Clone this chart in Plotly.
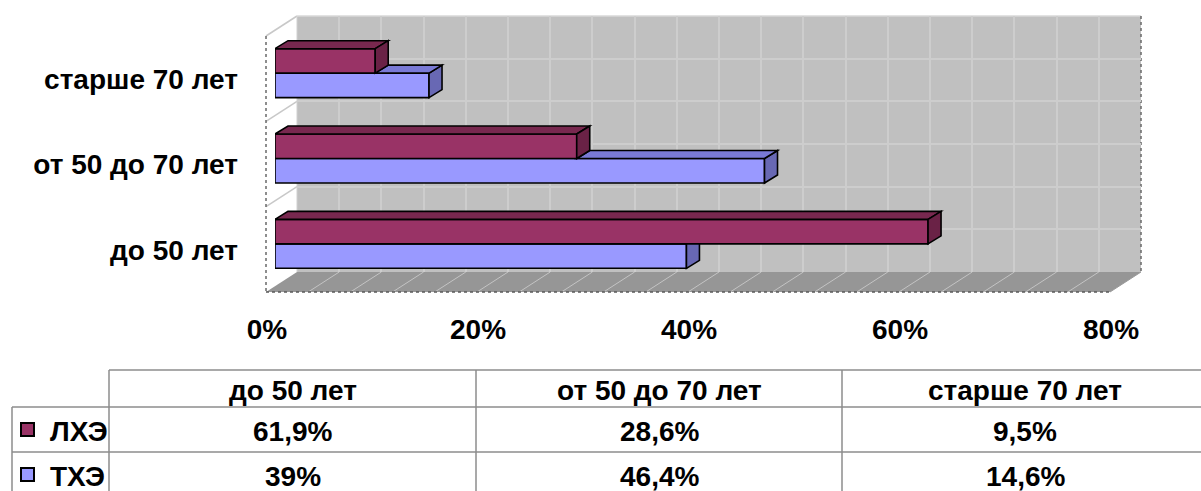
import plotly.graph_objects as go

# ---- data ----
categories = ["до 50 лет", "от 50 до 70 лет", "старше 70 лет"]
series_names = ["ЛХЭ", "ТХЭ"]
lhe_values = [61.9, 28.6, 9.5]
the_values = [39.0, 46.4, 14.6]
x_ticks = [0, 20, 40, 60, 80]
x_tick_labels = ["0%", "20%", "40%", "60%", "80%"]

# ---- styling ----
W, H = 1201, 491
FONT = "Liberation Sans"
FS = 28
LHE_COLORS = dict(front="#993366", top="#78284f", side="#6a2246")
THE_COLORS = dict(front="#9999FF", top="#7a7ad6", side="#6868b4")

X_MAX = 80
MINOR_STEP = 4

# 3-D box geometry, in pixels
FLOOR_X0, FLOOR_X1, FLOOR_Y = 266, 1110, 292      # front edge of the floor
DEPTH_X, DEPTH_Y = 31, 20                          # full depth of the box
WALL_TOP = 16                                      # top edge of the back wall
BAR_SHIFT_X, BAR_SHIFT_Y = 9, 5.5                 # bars sit this far behind the front
BAR_DEPTH_X, BAR_DEPTH_Y = 13, 8                   # thickness of each bar
BARGAP = 0.426


def px(x):
    return x / W


def py(y):
    return 1 - y / H


wall_x0, wall_x1 = FLOOR_X0 + DEPTH_X, FLOOR_X1 + DEPTH_X
wall_y0, wall_y1 = WALL_TOP, FLOOR_Y - DEPTH_Y
bar_x0, bar_x1 = FLOOR_X0 + BAR_SHIFT_X, FLOOR_X1 + BAR_SHIFT_X
bar_y0 = WALL_TOP + DEPTH_Y - BAR_SHIFT_Y
bar_y1 = FLOOR_Y - BAR_SHIFT_Y

n_cat = len(categories)
x_unit = (bar_x1 - bar_x0) / X_MAX
y_unit = (bar_y1 - bar_y0) / n_cat
ddx = BAR_DEPTH_X / x_unit
ddy = BAR_DEPTH_Y / y_unit
half = (1 - BARGAP) / 2

fig = go.Figure()

# empty trace that carries the back-wall grid subplot
fig.add_trace(go.Scatter(x=[None], y=[None], xaxis="x", yaxis="y",
                         showlegend=False, hoverinfo="skip"))

fig.add_trace(go.Bar(y=categories, x=the_values, orientation="h", name=series_names[1],
                     marker=dict(color=THE_COLORS["front"], line=dict(color="black", width=1.6)),
                     xaxis="x2", yaxis="y2", showlegend=False))
fig.add_trace(go.Bar(y=categories, x=lhe_values, orientation="h", name=series_names[0],
                     marker=dict(color=LHE_COLORS["front"], line=dict(color="black", width=1.6)),
                     xaxis="x2", yaxis="y2", showlegend=False))

shapes = []


def poly(points, fill, xref="paper", yref="paper", layer="below", line=None, conv=True):
    if conv:
        pts = [(px(a), py(b)) for a, b in points]
    else:
        pts = points
    path = "M " + " L ".join(f"{a},{b}" for a, b in pts) + " Z"
    shapes.append(dict(type="path", path=path, xref=xref, yref=yref, layer=layer,
                       fillcolor=fill, line=line or dict(width=0)))


def seg(x0, y0, x1, y1, color, width=1, dash="solid", layer="below"):
    shapes.append(dict(type="line", xref="paper", yref="paper", layer=layer,
                       x0=px(x0), y0=py(y0), x1=px(x1), y1=py(y1),
                       line=dict(color=color, width=width, dash=dash)))


# back wall
poly([(wall_x0, wall_y0), (wall_x1, wall_y0), (wall_x1, wall_y1), (wall_x0, wall_y1)], "#c0c0c0")
# left wall
poly([(FLOOR_X0, FLOOR_Y), (FLOOR_X0, wall_y0 + DEPTH_Y), (wall_x0, wall_y0), (wall_x0, wall_y1)], "white")
seg(FLOOR_X0, wall_y0 + DEPTH_Y, wall_x0, wall_y0, "#c8c8c8", 1.5)
for j in range(1, n_cat):
    yb = wall_y1 - j * (wall_y1 - wall_y0) / n_cat
    seg(FLOOR_X0, yb + DEPTH_Y, wall_x0, yb, "#c8c8c8", 1.5)
seg(wall_x0, wall_y0, wall_x0, wall_y1, "#d0d0d0", 1)
# floor
poly([(FLOOR_X0, FLOOR_Y), (FLOOR_X1, FLOOR_Y), (wall_x1, wall_y1), (wall_x0, wall_y1)], "#969696")
floor_unit = (FLOOR_X1 - FLOOR_X0) / X_MAX
for v in range(0, X_MAX + 1, MINOR_STEP):
    if 0 < v < X_MAX:
        seg(FLOOR_X0 + v * floor_unit, FLOOR_Y, wall_x0 + v * floor_unit, wall_y1, "#c4c4c4", 1)
# box edges
seg(wall_x0, wall_y0, wall_x1, wall_y0, "#d8d8d8", 1.5)
seg(wall_x1, wall_y0, wall_x1, wall_y1, "#6a6a6a", 1.5, "dot")
seg(FLOOR_X0, wall_y0 + DEPTH_Y, FLOOR_X0, FLOOR_Y, "#6a6a6a", 1.5, "dot")
seg(FLOOR_X0, FLOOR_Y, FLOOR_X1, FLOOR_Y, "#5a5a5a", 1.5, "dot")
seg(FLOOR_X1, FLOOR_Y, wall_x1, wall_y1, "#9a9a9a", 1)

# 3-D faces of the bars, in data units of the bar axes
edge = dict(color="black", width=1.6)


def face(points, fill):
    poly(points, fill, xref="x2", yref="y2", layer="above", line=edge, conv=False)


for i in range(n_cat):
    vl, vt = lhe_values[i], the_values[i]
    # lower bar (ТХЭ): faces partly hidden behind the upper bar
    if vt > vl:
        face([(vt, i - half), (vt, i), (vt + ddx, i + ddy), (vt + ddx, i - half + ddy)], THE_COLORS["side"])
        face([(vl, i), (vt, i), (vt + ddx, i + ddy), (vl + ddx, i + ddy)], THE_COLORS["top"])
    else:
        face([(vt, i - half), (vt, i), (vt + ddx, i), (vt + ddx, i - half + ddy)], THE_COLORS["side"])
    # upper bar (ЛХЭ)
    face([(0, i + half), (vl, i + half), (vl + ddx, i + half + ddy), (ddx, i + half + ddy)], LHE_COLORS["top"])
    face([(vl, i), (vl, i + half), (vl + ddx, i + half + ddy), (vl + ddx, i + ddy)], LHE_COLORS["side"])

# ---- data table under the chart ----
TBL_LEFT, TBL_X = 12, [109, 476, 842, 1208]
TBL_Y = [370, 407, 452, 497]
GRID = "#8c8c8c"
seg(TBL_X[0], TBL_Y[0], TBL_X[-1], TBL_Y[0], GRID, 1.5, layer="above")
for yy in TBL_Y[1:]:
    seg(TBL_LEFT, yy, TBL_X[-1], yy, GRID, 1.5, layer="above")
seg(TBL_LEFT, TBL_Y[1], TBL_LEFT, TBL_Y[-1], GRID, 1.5, layer="above")
for xx in TBL_X:
    seg(xx, TBL_Y[0], xx, TBL_Y[-1], GRID, 1.5, layer="above")

annotations = []


def text(x, y, s, anchor="center"):
    annotations.append(dict(x=px(x), y=py(y), xref="paper", yref="paper", text=s,
                            showarrow=False, xanchor=anchor, yanchor="middle",
                            font=dict(family=FONT, size=FS, color="black", weight="bold")))


def pct(v):
    return f"{v:g}".replace(".", ",") + "%"


col_centers = [(TBL_X[k] + TBL_X[k + 1]) / 2 for k in range(n_cat)]
row_centers = [(TBL_Y[k] + TBL_Y[k + 1]) / 2 + 2 for k in range(3)]
for k, cat in enumerate(categories):
    text(col_centers[k], row_centers[0], cat)
rows = [(series_names[0], lhe_values, LHE_COLORS["front"]),
        (series_names[1], the_values, THE_COLORS["front"])]
for r, (name, vals, color) in enumerate(rows, start=1):
    yc = row_centers[r] - 2
    shapes.append(dict(type="rect", xref="paper", yref="paper", layer="above",
                       x0=px(21), x1=px(34), y0=py(yc - 6.5), y1=py(yc + 6.5),
                       fillcolor=color, line=dict(color="black", width=2)))
    text(48, row_centers[r], name, anchor="left")
    for k, v in enumerate(vals):
        text(col_centers[k], row_centers[r], pct(v))

tick_font = dict(family=FONT, size=FS, color="black", weight="bold")

fig.update_layout(
    width=W, height=H, autosize=False,
    margin=dict(l=0, r=0, t=0, b=0, pad=0),
    paper_bgcolor="white", plot_bgcolor="rgba(0,0,0,0)",
    barmode="group", bargap=BARGAP, bargroupgap=0,
    shapes=shapes, annotations=annotations,
    xaxis=dict(domain=[px(wall_x0), px(wall_x1)], range=[0, X_MAX], dtick=MINOR_STEP,
               showgrid=True, gridcolor="#cdcdcd", gridwidth=2, zeroline=False,
               showticklabels=False, showline=False, anchor="y", fixedrange=True,
               automargin=False),
    yaxis=dict(domain=[py(wall_y1), py(wall_y0)], range=[0, 2 * n_cat], dtick=1,
               showgrid=True, gridcolor="#cdcdcd", gridwidth=2, zeroline=False,
               showticklabels=False, showline=False, anchor="x", fixedrange=True,
               automargin=False),
    xaxis2=dict(domain=[px(bar_x0), px(bar_x1)], range=[0, X_MAX], anchor="y2",
                tickvals=x_ticks, ticktext=x_tick_labels, tickfont=tick_font,
                showgrid=False, zeroline=False, showline=False, ticks="",
                ticklabelstandoff=23, ticklabelshift=-8, fixedrange=True,
                automargin=False),
    yaxis2=dict(domain=[py(bar_y1), py(bar_y0)], range=[-0.5, n_cat - 0.5], anchor="x2",
                type="category", categoryorder="array", categoryarray=categories,
                tickfont=tick_font, showgrid=False, zeroline=False, showline=False, ticks="",
                ticklabelstandoff=36, ticklabelshift=6, fixedrange=True,
                automargin=False),
)

fig.write_html("out.html")
